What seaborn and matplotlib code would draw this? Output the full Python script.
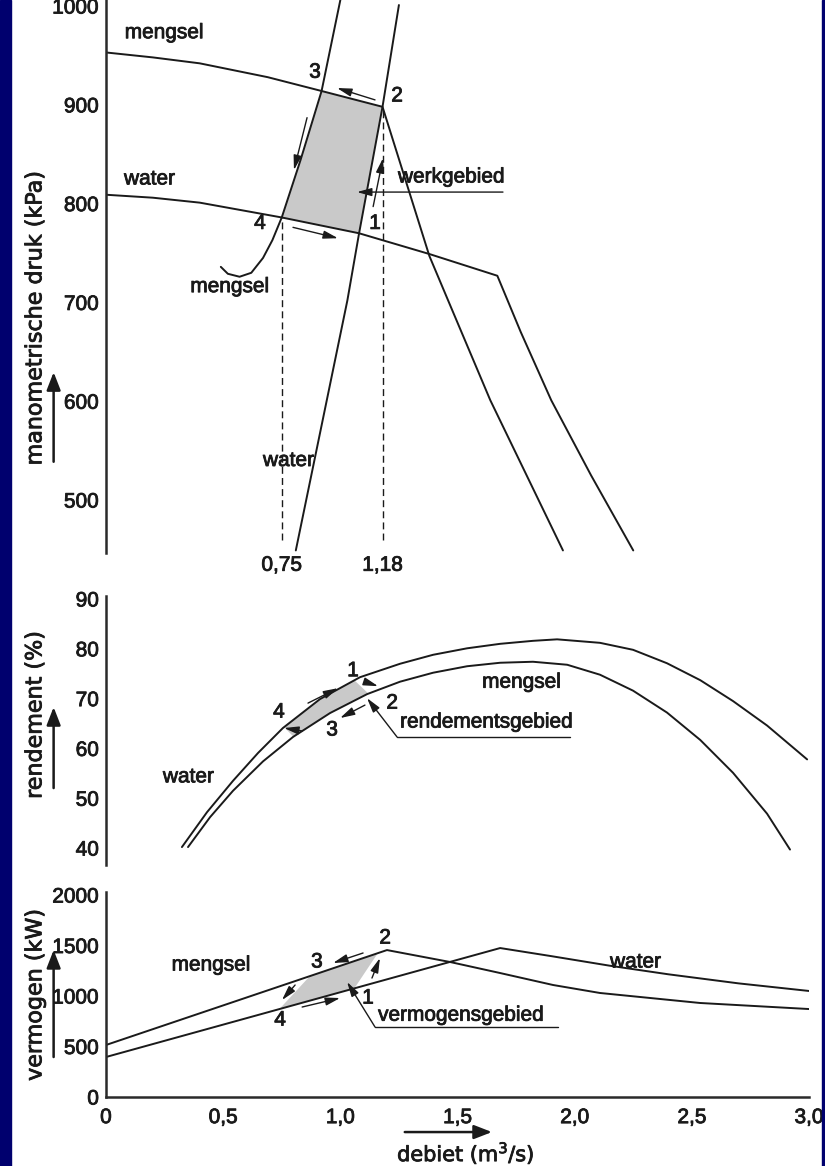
import numpy as np
import matplotlib.pyplot as plt
import matplotlib.patheffects as pe
import seaborn as sns
from matplotlib.patches import Rectangle

# ---------------- data ----------------
# bovenste grafiek: manometrische druk (kPa) tegen debiet (m3/s)
pomp_mengsel_q = [0.0, 0.20, 0.40, 0.69, 0.92, 1.18, 1.38, 1.46, 1.64, 1.95]
pomp_mengsel_p = [953, 948, 942, 928, 914, 898, 747, 702, 601, 449]
pomp_water_q = [0.0, 0.20, 0.40, 0.75, 1.08, 1.38, 1.67, 1.77, 1.90, 2.07, 2.25]
pomp_water_p = [809, 806, 801, 786, 770, 749, 727, 670, 601, 525, 449]
leiding_mengsel_q = [0.49, 0.52, 0.57, 0.62, 0.67, 0.71, 0.75, 0.83, 0.92, 0.96, 1.00]
leiding_mengsel_p = [736, 729, 726, 730, 745, 763, 786, 844, 914, 960, 1006]
leiding_water_q = [0.81, 1.03, 1.08, 1.18, 1.25]
leiding_water_p = [449, 702, 770, 898, 1001]
werkpunt_q = [0.75, 1.18]
werkpunt_p = [786, 898]
streep_onder = 460

# middelste grafiek: rendement (%)
rend_water_q = [0.324, 0.431, 0.542, 0.649, 0.755, 0.913, 1.084, 1.255, 1.396, 1.541,
                1.682, 1.822, 1.925, 2.108, 2.249, 2.394, 2.536, 2.676, 2.821, 2.992]
rend_water = [40.2, 47.2, 53.5, 59.1, 64.1, 69.9, 74.3, 77.0, 78.8, 80.1,
              81.0, 81.6, 81.9, 81.2, 79.8, 77.1, 73.7, 69.5, 64.6, 57.8]
rend_mengsel_q = [0.350, 0.444, 0.542, 0.670, 0.798, 0.956, 1.114, 1.255, 1.396, 1.541,
                  1.682, 1.822, 1.968, 2.108, 2.249, 2.394, 2.536, 2.676, 2.821, 2.919]
rend_mengsel = [40.2, 46.2, 51.5, 57.4, 62.3, 67.1, 70.9, 73.4, 75.2, 76.5,
                77.2, 77.4, 76.8, 74.8, 71.6, 67.2, 61.7, 55.1, 46.9, 39.7]

# onderste grafiek: vermogen (kW)
verm_mengsel_q = [0.0, 1.199, 1.468, 1.681, 1.908, 2.108, 2.535, 3.0]
verm_mengsel = [515, 1455, 1337, 1228, 1109, 1030, 931, 871]
verm_water_q = [0.0, 1.682, 1.90, 2.15, 2.40, 2.70, 3.0]
verm_water = [396, 1475, 1395, 1300, 1215, 1125, 1050]

# grenzen van de gearceerde gebieden (debiet)
rend_gebied = {"water": (0.76, 1.06), "mengsel": (0.80, 1.12)}
verm_gebied = {"water": (0.74, 1.06), "mengsel": (0.87, 1.16)}

x_ticks = [0, 0.5, 1.0, 1.5, 2.0, 2.5, 3.0]
x_labels = ["0", "0,5", "1,0", "1,5", "2,0", "2,5", "3,0"]

# ---------------- style ----------------
sns.set_style("white")
plt.rcParams['font.family'] = ['Liberation Sans', 'DejaVu Sans']
INK = '#1a1a1a'
GRAY = '#c9c9c9'
plt.rcParams['text.color'] = INK
BOLDISH = [pe.withStroke(linewidth=0.6, foreground=INK)]

W, H = 825, 1166
fig = plt.figure(figsize=(W / 100, H / 100), dpi=100)


def box(left, top, right, bottom):
    return [left / W, 1 - bottom / H, (right - left) / W, (bottom - top) / H]


ax1 = fig.add_axes(box(106, 0, 809, 553))
ax2 = fig.add_axes(box(106, 596, 809, 865))
ax3 = fig.add_axes(box(106, 892, 809, 1097))

for ax in (ax1, ax2, ax3):
    ax.set_xlim(0, 3.0)
    ax.set_facecolor('none')
    for s in ('top', 'right'):
        ax.spines[s].set_visible(False)
    ax.spines['left'].set_color('#2a2a2a')
    ax.spines['left'].set_linewidth(1.8)
    ax.tick_params(length=0, labelsize=15, pad=5, colors=INK)
for ax in (ax1, ax2):
    ax.spines['bottom'].set_visible(False)
    ax.set_xticks([])
ax3.spines['bottom'].set_color('#2a2a2a')
ax3.spines['bottom'].set_linewidth(1.8)
ax3.set_xticks(x_ticks, x_labels)
ax3.tick_params(axis='x', pad=8)

ax1.set_ylim(446.4, 1006.1)
ax1.set_yticks([500, 600, 700, 800, 900, 1000])
ax2.set_ylim(36.6, 90.6)
ax2.set_yticks([40, 50, 60, 70, 80, 90])
ax3.set_ylim(0, 2030)
ax3.set_yticks([0, 500, 1000, 1500, 2000])
for ax in (ax1, ax2, ax3):
    for lab in ax.get_xticklabels() + ax.get_yticklabels():
        lab.set_path_effects(BOLDISH)

LW = 1.4


def curve(ax, q, v):
    sns.lineplot(x=q, y=v, ax=ax, color=INK, lw=LW, sort=False, estimator=None)


def pijl(ax, start, end, lw=1.0, hl=0.8, hw=0.22, ms=11, coords='data'):
    ax.annotate('', xy=end, xytext=start, xycoords=coords, textcoords=coords,
                annotation_clip=False,
                arrowprops=dict(arrowstyle=f'-|>,head_length={hl},head_width={hw}',
                                color=INK, lw=lw, shrinkA=0, shrinkB=0, mutation_scale=ms))


def txt(ax, x, y, s, **kw):
    kw.setdefault('fontsize', 15)
    kw.setdefault('va', 'center')
    ax.text(x, y, s, path_effects=BOLDISH, **kw)


def part(q, v, lo, hi):
    q = np.asarray(q, float)
    v = np.asarray(v, float)
    m = (q > lo) & (q < hi)
    qs = np.concatenate([[lo], q[m], [hi]])
    vs = np.concatenate([[np.interp(lo, q, v)], v[m], [np.interp(hi, q, v)]])
    return qs, vs


# ---------------- bovenste grafiek ----------------
lq, lp = np.array(leiding_mengsel_q), np.array(leiding_mengsel_p)
mq, mp = np.array(pomp_mengsel_q), np.array(pomp_mengsel_p)
rq, rp = np.array(leiding_water_q), np.array(leiding_water_p)
wq, wp = np.array(pomp_water_q), np.array(pomp_water_p)
sa = (lp >= werkpunt_p[0]) & (lp <= 914)
sb = (mq >= 0.92) & (mq <= werkpunt_q[1])
sc = (rp >= 770) & (rp <= werkpunt_p[1])
sd = (wq >= werkpunt_q[0]) & (wq <= 1.08)
poly_q = np.concatenate([lq[sa], mq[sb], rq[sc][::-1], wq[sd][::-1]])
poly_p = np.concatenate([lp[sa], mp[sb], rp[sc][::-1], wp[sd][::-1]])
ax1.fill(poly_q, poly_p, color=GRAY, lw=0, zorder=0)

curve(ax1, pomp_mengsel_q, pomp_mengsel_p)
curve(ax1, pomp_water_q, pomp_water_p)
curve(ax1, leiding_mengsel_q, leiding_mengsel_p)
curve(ax1, leiding_water_q, leiding_water_p)
ax1.vlines(werkpunt_q, streep_onder, werkpunt_p, colors=INK, lw=1.0,
           linestyles=(0, (5, 3)))
for q in werkpunt_q:
    txt(ax1, q, 434, f"{q:.2f}".replace('.', ','), ha='center')

txt(ax1, 0.08, 973, "mengsel")
txt(ax1, 0.077, 825, "water")
txt(ax1, 0.36, 716, "mengsel")
txt(ax1, 0.67, 540, "water")
txt(ax1, 0.892, 933, "3", ha='center')
txt(ax1, 1.242, 909, "2", ha='center')
txt(ax1, 0.657, 780, "4", ha='center')
txt(ax1, 1.148, 780, "1", ha='center')
txt(ax1, 1.246, 827, "werkgebied")
pijl(ax1, (1.148, 905), (0.986, 917))
pijl(ax1, (0.858, 887), (0.802, 834))
pijl(ax1, (0.798, 776), (0.990, 765))
pijl(ax1, (1.140, 797), (1.182, 846))
pijl(ax1, (1.694, 811.7), (1.071, 811.7))

# ---------------- middelste grafiek ----------------
uq, uv = part(rend_water_q, rend_water, *rend_gebied["water"])
dq, dv = part(rend_mengsel_q, rend_mengsel, *rend_gebied["mengsel"])
ax2.fill(np.concatenate([uq, dq[::-1]]), np.concatenate([uv, dv[::-1]]),
         color=GRAY, lw=0, zorder=0)
curve(ax2, rend_water_q, rend_water)
curve(ax2, rend_mengsel_q, rend_mengsel)
txt(ax2, 1.054, 75.6, "1", ha='center')
txt(ax2, 1.221, 69.1, "2", ha='center')
txt(ax2, 0.965, 63.7, "3", ha='center')
txt(ax2, 0.738, 67.3, "4", ha='center')
txt(ax2, 1.605, 73.3, "mengsel")
txt(ax2, 0.243, 54.3, "water")
txt(ax2, 1.255, 65.3, "rendementsgebied")
pijl(ax2, (0.862, 69.1), (0.990, 72.1))
pijl(ax2, (1.110, 73.3), (1.161, 72.5))
pijl(ax2, (1.105, 68.7), (0.999, 66.1))
pijl(ax2, (0.837, 63.5), (0.760, 64.1))
ax2.plot([1.242, 1.980], [62.3, 62.3], color=INK, lw=1.0)
pijl(ax2, (1.242, 62.3), (1.114, 70.1))

# ---------------- onderste grafiek ----------------
uq, uv = part(verm_water_q, verm_water, *verm_gebied["water"])
dq, dv = part(verm_mengsel_q, verm_mengsel, *verm_gebied["mengsel"])
ax3.fill(np.concatenate([uq, dq[::-1]]), np.concatenate([uv, dv[::-1]]),
         color=GRAY, lw=0, zorder=0)
curve(ax3, verm_mengsel_q, verm_mengsel)
curve(ax3, verm_water_q, verm_water)
txt(ax3, 0.900, 1337, "3", ha='center')
txt(ax3, 1.191, 1574, "2", ha='center')
txt(ax3, 0.743, 762, "4", ha='center')
txt(ax3, 1.118, 980, "1", ha='center')
txt(ax3, 0.28, 1307, "mengsel")
txt(ax3, 2.151, 1337, "water")
txt(ax3, 1.161, 810, "vermogensgebied")
pijl(ax3, (1.097, 1426), (0.969, 1327))
pijl(ax3, (0.807, 1109), (0.751, 960))
pijl(ax3, (0.837, 891), (0.999, 980))
pijl(ax3, (1.135, 1178), (1.169, 1376))
ax3.plot([1.148, 1.929], [693, 693], color=INK, lw=1.0)
pijl(ax3, (1.148, 693), (1.029, 1139))

# ---------------- aslabels met pijlen ----------------
labels = [(ax1, "manometrische druk (kPa)", 0.425, (0.165, 0.327)),
          (ax2, "rendement (%)", 0.558, (0.286, 0.587)),
          (ax3, "vermogen (kW)", 0.498, (0.195, 0.717))]
for ax, lab, yc, (y0, y1) in labels:
    ax.text(-0.1005, yc, lab, rotation=90, transform=ax.transAxes, ha='center',
            va='center', fontsize=16, family='DejaVu Sans', path_effects=BOLDISH)
    pijl(ax, (-0.0745, y0), (-0.0745, y1), lw=1.8, hl=0.9, hw=0.35, ms=12,
         coords='axes fraction')

ax3.text(0.512, -0.273, "debiet (m$^3$/s)", transform=ax3.transAxes, ha='center',
         va='center', fontsize=15, family='DejaVu Sans', path_effects=BOLDISH)
pijl(ax3, (0.425, -0.171), (0.549, -0.171), lw=1.8, hl=0.9, hw=0.35, ms=12,
     coords='axes fraction')

# blauwe randen
navy = '#00006e'
fig.add_artist(Rectangle((0, 0), 11 / W, 1, transform=fig.transFigure, color=navy, zorder=20))
fig.add_artist(Rectangle((822 / W, 0), 3 / W, 1, transform=fig.transFigure, color=navy, zorder=20))

fig.savefig("out.png", dpi=100, facecolor='white')
